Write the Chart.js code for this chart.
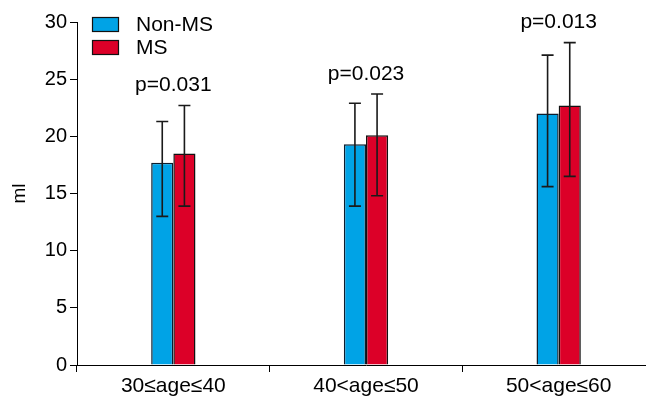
<!DOCTYPE html>
<html>
<head>
<meta charset="utf-8">
<script src="https://cdn.jsdelivr.net/npm/chart.js@4/dist/chart.umd.min.js"></script>
<style>
  html, body { margin: 0; padding: 0; background: #fff; overflow: hidden; }
  #wrap { width: 646px; height: 398px; overflow: hidden; }
</style>
</head>
<body>
<div id="wrap"><canvas id="c" width="658" height="398"></canvas></div>
<script>
// Age groups and mean volume (ml) with error bar ends
const CATEGORIES = ['30≤age≤40', '40<age≤50', '50<age≤60'];
const NON_MS = [17.7, 19.3, 22.0];
const NON_MS_LOW = [13.0, 13.9, 15.6];
const NON_MS_HIGH = [21.3, 22.9, 27.1];
const MS = [18.5, 20.1, 22.7];
const MS_LOW = [13.9, 14.8, 16.5];
const MS_HIGH = [22.7, 23.7, 28.2];
const P_VALUES = ['p=0.031', 'p=0.023', 'p=0.013'];

const FONT = 'Liberation Sans, Arial, sans-serif';
const BLUE = '#00a3e6';
const RED = '#dc0028';

// ── error bars + p-values + legend ──
const extras = {
  id: 'extras',
  afterDatasetsDraw(chart) {
    const { ctx, scales: { y } } = chart;
    const ends = [[NON_MS_LOW, NON_MS_HIGH], [MS_LOW, MS_HIGH]];
    ctx.save();
    ctx.strokeStyle = '#1a1a1a';
    ctx.lineWidth = 1.6;
    chart.data.datasets.forEach((ds, i) => {
      const meta = chart.getDatasetMeta(i);
      meta.data.forEach((bar, j) => {
        const lo = y.getPixelForValue(ends[i][0][j]);
        const hi = y.getPixelForValue(ends[i][1][j]);
        ctx.beginPath();
        ctx.moveTo(bar.x, lo); ctx.lineTo(bar.x, hi);
        ctx.moveTo(bar.x - 6, lo); ctx.lineTo(bar.x + 6, lo);
        ctx.moveTo(bar.x - 6, hi); ctx.lineTo(bar.x + 6, hi);
        ctx.stroke();
      });
    });
    ctx.fillStyle = '#000';
    ctx.font = '21px ' + FONT;
    ctx.textAlign = 'center';
    ctx.textBaseline = 'middle';
    const xs = chart.scales.x;
    P_VALUES.forEach((p, j) => {
      const top = y.getPixelForValue(Math.max(NON_MS_HIGH[j], MS_HIGH[j]));
      ctx.fillText(p, xs.getPixelForValue(j), top - 20);
    });

    ctx.textAlign = 'left';
    chart.data.datasets.forEach((ds, i) => {
      const top = 17 + i * 23;
      ctx.fillStyle = ds.backgroundColor;
      ctx.fillRect(92, top, 27, 15);
      ctx.lineWidth = 1.2;
      ctx.strokeStyle = '#111';
      ctx.strokeRect(92.5, top + 0.5, 26, 14);
      ctx.fillStyle = '#000';
      ctx.fillText(ds.label, 136, top + 8);
    });
    ctx.restore();
  }
};

new Chart(document.getElementById('c'), {
  type: 'bar',
  data: {
    labels: CATEGORIES,
    datasets: [
      { label: 'Non-MS', data: NON_MS, backgroundColor: BLUE, borderColor: '#0d1d2d', borderWidth: 1.5 },
      { label: 'MS', data: MS, backgroundColor: RED, borderColor: '#111', borderWidth: 1.5 },
    ],
  },
  options: {
    responsive: false,
    animation: false,
    layout: { padding: { top: 22, right: 3, left: 0, bottom: 0 } },
    categoryPercentage: 0.23,
    barPercentage: 1,
    plugins: { legend: { display: false }, tooltip: { enabled: false } },
    scales: {
      x: {
        grid: { offset: true, drawOnChartArea: false, drawTicks: true, tickLength: 7, color: '#000' },
        border: { display: true, color: '#000', width: 1 },
        ticks: { color: '#000', font: { family: FONT, size: 21 }, padding: 2, maxRotation: 0 },
        afterFit: (s) => { s.height = 33; },
      },
      y: {
        min: 0, max: 30,
        grid: { drawOnChartArea: false, drawTicks: true, tickLength: 7, color: '#000' },
        border: { display: true, color: '#000', width: 1 },
        ticks: { stepSize: 5, color: '#000', font: { family: FONT, size: 20 }, padding: 3 },
        title: { display: true, text: 'ml', color: '#000', font: { family: FONT, size: 19 }, padding: { top: 8 } },
        afterFit: (s) => { s.width = 77; },
      },
    },
  },
  plugins: [extras],
});
</script>
</body>
</html>
